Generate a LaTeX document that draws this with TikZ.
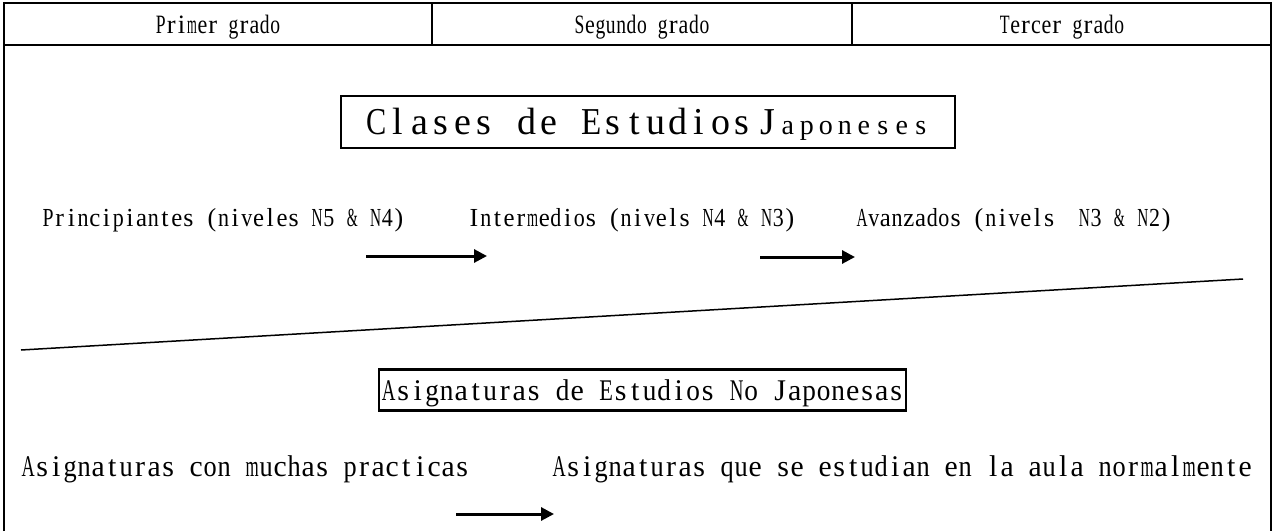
\documentclass[tikz,border=0pt]{standalone}
\usepackage{fontspec}
\setmainfont{Liberation Serif}
\usetikzlibrary{arrows.meta}
\ExplSyntaxOn
\dim_new:N \l_ms_pitch_dim
\fp_new:N \l_ms_sx_fp
\seq_new:N \l_ms_words_seq
\box_new:N \l_ms_box
\bool_new:N \l_ms_first_bool
\cs_new_protected:Npn \ms_char:n #1
 {
  \hbox_set:Nn \l_ms_box {#1}
  \box_scale:Nnn \l_ms_box { \fp_use:N \l_ms_sx_fp } { 1 }
  \dim_compare:nNnT { \box_wd:N \l_ms_box } > { 0.94 \l_ms_pitch_dim }
   {
    \box_scale:Nnn \l_ms_box
     { \dim_to_fp:n { 0.94 \l_ms_pitch_dim } / \dim_to_fp:n { \box_wd:N \l_ms_box } }
     { 1 }
   }
  \hbox_to_wd:nn { \l_ms_pitch_dim } { \hfil \box_use:N \l_ms_box \hfil }
 }
\NewDocumentCommand \mono { m m m }
 {
  \dim_set:Nn \l_ms_pitch_dim {#1}
  \fp_set:Nn \l_ms_sx_fp {#2}
  \seq_set_split:Nnn \l_ms_words_seq { ~ } {#3}
  \bool_set_true:N \l_ms_first_bool
  \seq_map_inline:Nn \l_ms_words_seq
   {
    \bool_if:NF \l_ms_first_bool { \hbox_to_wd:nn { \l_ms_pitch_dim } { } }
    \bool_set_false:N \l_ms_first_bool
    \tl_map_function:nN {##1} \ms_char:n
   }
 }
\ExplSyntaxOff
\tikzset{
  frame/.style={line width=2pt},
  hdr/.style={font=\fontsize{26.5}{30}\selectfont, inner sep=0pt, anchor=base},
  rowtxt/.style={font=\fontsize{26}{30}\selectfont, inner sep=0pt, anchor=base west},
  lowtxt/.style={font=\fontsize{30}{34}\selectfont, inner sep=0pt, anchor=base west},
  titlebox/.style={draw, line width=2.5pt, inner sep=0pt, minimum width=614pt, minimum height=52pt,
    text height=25pt, text depth=0pt, font=\fontsize{38}{42}\selectfont},
  subbox/.style={draw, line width=2.5pt, inner sep=0pt, minimum width=527pt, minimum height=41pt,
    text height=20pt, text depth=0pt, font=\fontsize{30}{34}\selectfont},
  arr/.style={line width=3pt, -{Triangle[length=13pt,width=13pt]}},
}
\begin{document}
\begin{tikzpicture}[x=1pt,y=-1pt]
\useasboundingbox (0,0) rectangle (1274,531);
\fill[white] (0,0) rectangle (1274,531);
% frame and header
\draw[frame] (4,531) -- (4,3) -- (1271,3) -- (1271,531);
\draw[frame] (4,45) -- (1271,45);
\draw[frame] (432,3) -- (432,45);
\draw[frame] (852,3) -- (852,45);
\node[hdr] (g1) at (218,33) {\mono{10.4pt}{1}{Primer grado}};
\node[hdr] (g2) at (642,33) {\mono{10.4pt}{1}{Segundo grado}};
\node[hdr] (g3) at (1062,33) {\mono{10.4pt}{1}{Tercer grado}};
% title
\node[titlebox] (title) at (648,122) {\mono{21.5pt}{1}{Clases de Estudios}\hspace{4pt}\mono{21.5pt}{1}{J}{\fontsize{28}{30}\selectfont\mono{19pt}{1}{aponeses}}};
% levels
\node[rowtxt] (n1) at (42,226) {\mono{11.7pt}{1}{Principiantes (niveles N5 \& N4)}};
\node[rowtxt] (n2) at (468,226) {\mono{11.7pt}{1}{Intermedios (nivels N4 \& N3)}};
\node[rowtxt] (n3) at (856,226) {\mono{11.7pt}{1}{Avanzados (nivels~ N3 \& N2)}};
\coordinate (a1s) at (366,256);
\coordinate (a1e) at (487,256);
\coordinate (a2s) at (760,257);
\coordinate (a2e) at (855,257);
\draw[arr] (a1s) -- (a1e);
\draw[arr] (a2s) -- (a2e);
% diagonal separator
\coordinate (d1) at (21,350);
\coordinate (d2) at (1243,279);
\draw[line width=1.5pt] (d1) -- (d2);
% non-japanese subjects
\node[subbox] (sub) at (642.5,390) {\mono{14.5pt}{1}{Asignaturas de Estudios No Japonesas}};
\node[lowtxt] (s1) at (21,476) {\mono{14pt}{1}{Asignaturas con muchas practicas}};
\node[lowtxt] (s2) at (552,476) {\mono{14pt}{1}{Asignaturas que se estudian en la aula normalmente}};
\coordinate (a3s) at (456,514);
\coordinate (a3e) at (554,514);
\draw[arr] (a3s) -- (a3e);
\end{tikzpicture}
\end{document}
